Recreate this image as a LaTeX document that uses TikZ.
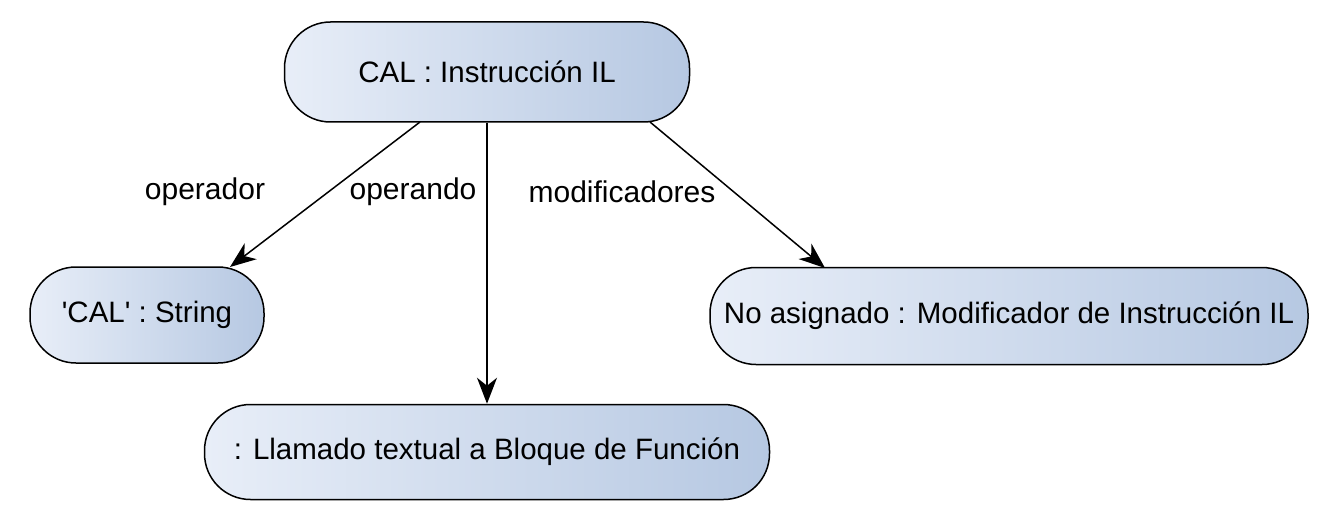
\documentclass[tikz,border=0pt]{standalone}
\usepackage{fontspec}
\setmainfont{Liberation Sans}
\usetikzlibrary{arrows.meta}
\definecolor{gleft}{HTML}{E8EEF8}
\definecolor{gright}{HTML}{B6C8E2}
\begin{document}
\begin{tikzpicture}[x=1pt,y=-1pt,
  obj/.style={draw=black, line width=1.5pt, rounded corners=46pt, left color=gleft, right color=gright, font=\fontsize{29.5}{32}\selectfont, inner sep=0pt},
  lbl/.style={font=\fontsize{30}{33}\selectfont},
  conn/.style={line width=1.5pt, -{Stealth[length=26pt,width=20pt,inset=8pt]}}]
\useasboundingbox (0,0) rectangle (1322,524);
\node[obj, minimum width=405pt, minimum height=100pt] (top) at (487,72) {CAL : Instrucción IL};
\node[obj, minimum width=234pt, minimum height=96pt] (str) at (147,315) {\textquotesingle CAL\textquotesingle{} : String};
\node[obj, minimum width=598pt, minimum height=97pt] (mod) at (1009,316) {No asignado : Modificador de Instrucción IL};
\node[obj, minimum width=565pt, minimum height=95pt] (fb) at (487,452) {: Llamado textual a Bloque de Función};
\coordinate (s1) at (420,122);
\coordinate (s3) at (650,122);
\coordinate (e1) at (230,267);
\coordinate (e3) at (825,268);
\draw[conn] (s1) -- (e1);
\draw[conn] (top.south) -- (fb.north);
\draw[conn] (s3) -- (e3);
\node[lbl] (l1) at (205,192) {operador};
\node[lbl] (l2) at (413,192) {operando};
\node[lbl] (l3) at (622,192) {modificadores};
\end{tikzpicture}
\end{document}
